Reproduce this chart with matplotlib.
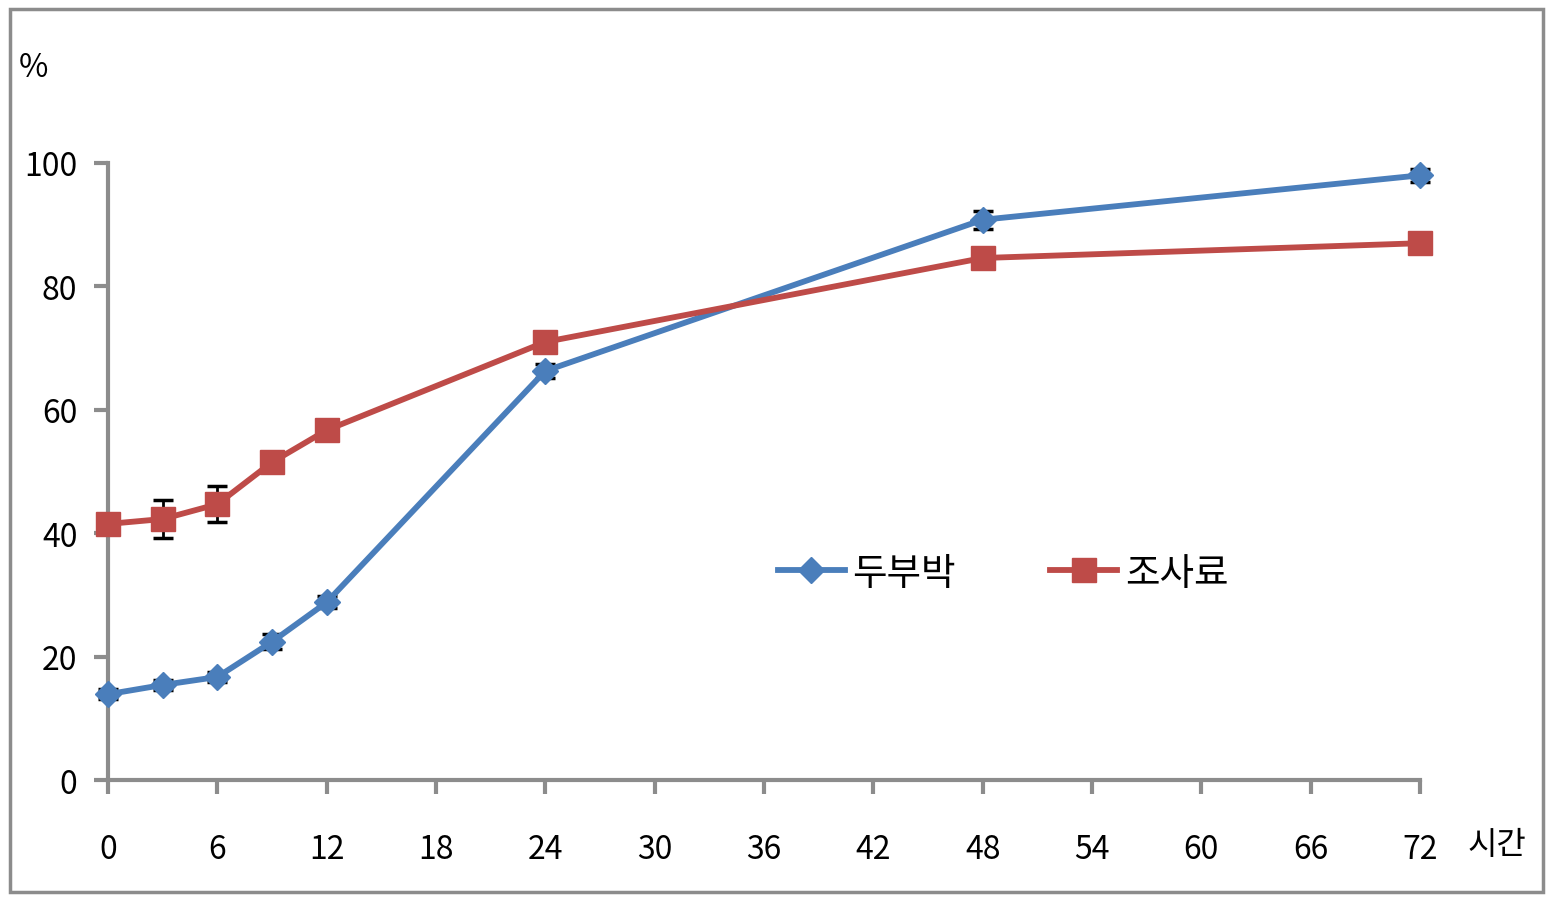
import numpy as np
import matplotlib.pyplot as plt

plt.rcParams['font.family'] = ['Noto Sans CJK KR', 'DejaVu Sans']

hours = [0, 3, 6, 9, 12, 24, 48, 72]
dubu = [13.9, 15.4, 16.7, 22.4, 28.8, 66.3, 90.8, 98.0]
dubu_err = [0.8, 0.8, 0.8, 1.2, 1.0, 1.2, 1.5, 1.0]
josa = [41.5, 42.3, 44.7, 51.5, 56.7, 71.0, 84.6, 87.0]
josa_err = [0.8, 3.0, 2.9, 0.8, 0.8, 0.8, 0.8, 0.5]
xticks = [0, 6, 12, 18, 24, 30, 36, 42, 48, 54, 60, 66, 72]
yticks = [0, 20, 40, 60, 80, 100]

fig = plt.figure(figsize=(15.49, 9.04), dpi=100)
ax = fig.add_axes([108 / 1549, 1 - 781 / 904, (1420 - 108) / 1549, (781 - 164) / 904])

# rahmen um die ganze grafik
fig.patches.append(plt.Rectangle((10 / 1549, 1 - 893 / 904), 1533 / 1549, 883 / 904,
                                 transform=fig.transFigure, fill=False,
                                 edgecolor='#8c8c8c', linewidth=2.5))

blue = '#4a7ebb'
red = '#be4b48'

ax.errorbar(hours, dubu, yerr=dubu_err, fmt='none', ecolor='black', elinewidth=2,
            capsize=7, capthick=2.5, zorder=2)
ax.errorbar(hours, josa, yerr=josa_err, fmt='none', ecolor='black', elinewidth=2,
            capsize=7, capthick=2.5, zorder=2)
ax.plot(hours, dubu, color=blue, linewidth=4.2, marker='D', markersize=13.5,
        label='두부박', zorder=3)
ax.plot(hours, josa, color=red, linewidth=4.2, marker='s', markersize=17,
        label='조사료', zorder=3)

ax.set_xlim(0, 72)
ax.set_ylim(0, 100)
ax.set_xticks(xticks)
ax.set_yticks(yticks)
for line in ax.lines:
    line.set_clip_on(False)
for coll in ax.collections:
    coll.set_clip_on(False)

for side in ['top', 'right']:
    ax.spines[side].set_visible(False)
for side in ['left', 'bottom']:
    ax.spines[side].set_color('#8c8c8c')
    ax.spines[side].set_linewidth(3)
ax.tick_params(axis='both', colors='#8c8c8c', width=3, length=10, labelsize=23,
               labelcolor='black')
ax.tick_params(axis='x', pad=28)
ax.tick_params(axis='y', pad=12)

fig.text(33 / 1549, 1 - 68 / 904, '%', fontsize=23, ha='center', va='center')
fig.text(1497 / 1549, 1 - 845 / 904, '시간', fontsize=23, ha='center', va='center')

leg = ax.legend(loc='center', bbox_to_anchor=(1003 / 1549, 1 - 574 / 904),
                bbox_transform=fig.transFigure, ncol=2, frameon=False,
                fontsize=27, handlelength=1.8, columnspacing=2.5, handletextpad=0.2)

fig.savefig('out.png', dpi=100, facecolor='white')
